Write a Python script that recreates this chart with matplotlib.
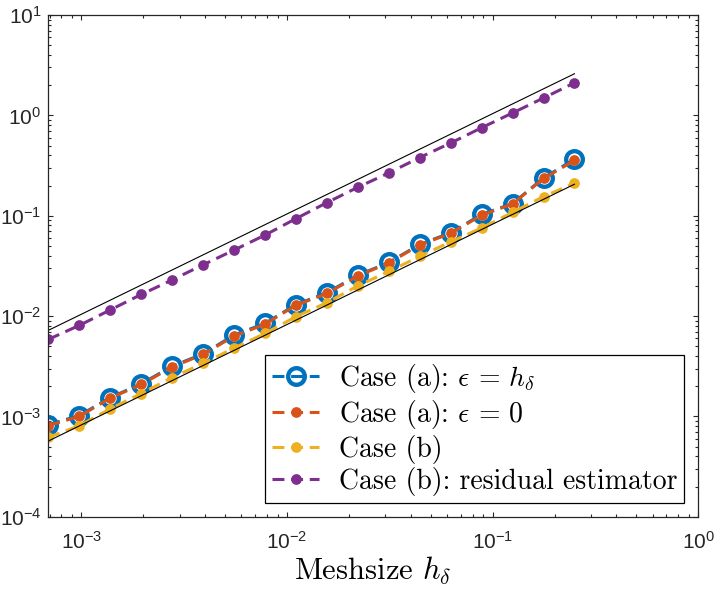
import math
import matplotlib
matplotlib.use("Agg")
import matplotlib.pyplot as plt
from matplotlib.ticker import LogLocator, FuncFormatter, NullFormatter

plt.rcParams['font.family'] = ['Liberation Sans', 'DejaVu Sans']
plt.rcParams['mathtext.fontset'] = 'cm'

# meshsizes (ascending)
h = [0.0006905, 0.0009766, 0.001381, 0.001953, 0.002762, 0.003906, 0.005524,
     0.007813, 0.01105, 0.01563, 0.0221, 0.03125, 0.04419, 0.0625, 0.08839,
     0.125, 0.1768, 0.25]

case_a_eps_h = [8.26e-4, 1.02e-3, 1.54e-3, 2.11e-3, 3.16e-3, 4.2e-3, 6.46e-3,
                8.45e-3, 0.0130, 0.0171, 0.0255, 0.0342, 0.0517, 0.0676,
                0.103, 0.132, 0.238, 0.366]
case_a_eps_0 = [8.1e-4, 1.0e-3, 1.52e-3, 2.08e-3, 3.1e-3, 4.15e-3, 6.3e-3,
                8.3e-3, 0.0128, 0.0168, 0.0251, 0.0338, 0.051, 0.0668,
                0.101, 0.131, 0.235, 0.355]
case_b = [6.17e-4, 8.07e-4, 1.19e-3, 1.69e-3, 2.44e-3, 3.37e-3, 4.79e-3,
          6.71e-3, 9.86e-3, 0.0136, 0.0200, 0.0278, 0.0393, 0.055, 0.0753,
          0.108, 0.155, 0.211]
case_b_resid = [0.00585, 0.00807, 0.0115, 0.0164, 0.0229, 0.0324, 0.0454,
                0.0641, 0.0935, 0.135, 0.192, 0.267, 0.380, 0.530, 0.753,
                1.057, 1.49, 2.11]

# slope-1 reference lines (end points)
ref_x = [0.0006905, 0.25]
ref_upper = [0.0072, 2.6]
ref_lower = [0.000568, 0.206]

labels = [r'Case (a): $\epsilon\,=\,h_\delta$',
          r'Case (a): $\epsilon\,=\,0$',
          r'Case (b)',
          r'Case (b): residual estimator']
colors = ['#0072BD', '#D95319', '#EDB120', '#7E2F8E']

fig = plt.figure(figsize=(7.15, 5.94), dpi=100)
ax = fig.add_axes([0.0676, 0.1301, 0.909, 0.8446])

lw = 2.2
dash = (3.9, 2.2)
ax.plot(h, case_a_eps_h, '--', dashes=dash, color=colors[0], lw=lw, marker='o',
        ms=12, mfc='none', mew=3.1, label=labels[0])
ax.plot(h, case_a_eps_0, '--', dashes=dash, color=colors[1], lw=lw, marker='o',
        ms=6.7, label=labels[1])
ax.plot(h, case_b, '--', dashes=dash, color=colors[2], lw=lw, marker='o',
        ms=6.7, label=labels[2])
ax.plot(h, case_b_resid, '--', dashes=dash, color=colors[3], lw=lw, marker='o',
        ms=6.7, label=labels[3])

ax.plot(ref_x, ref_upper, 'k-', lw=0.8)
ax.plot(ref_x, ref_lower, 'k-', lw=0.8)

ax.set_xscale('log')
ax.set_yscale('log')
ax.set_xlim(h[0], 1)
ax.set_ylim(1e-4, 1e1)

fmt = FuncFormatter(lambda v, p: r'$\mathdefault{10^{%d}}$' % round(math.log10(v)))
ax.xaxis.set_major_locator(LogLocator(base=10, numticks=20))
ax.yaxis.set_major_locator(LogLocator(base=10, numticks=20))
ax.xaxis.set_minor_locator(LogLocator(base=10, subs=range(2, 10), numticks=50))
ax.yaxis.set_minor_locator(LogLocator(base=10, subs=range(2, 10), numticks=50))
ax.xaxis.set_major_formatter(fmt)
ax.yaxis.set_major_formatter(fmt)
ax.xaxis.set_minor_formatter(NullFormatter())
ax.yaxis.set_minor_formatter(NullFormatter())

grey = '#262626'
ax.tick_params(which='both', direction='in', top=True, right=True,
               colors=grey, labelsize=15, width=0.8)
ax.tick_params(which='major', length=3.5)
ax.tick_params(which='minor', length=2)
ax.tick_params(axis='x', pad=10)
ax.tick_params(axis='y', pad=5)
for s in ax.spines.values():
    s.set_color(grey)
    s.set_linewidth(0.9)

ax.set_xlabel(r'Meshsize $h_\delta$', fontsize=22, family='cmr10', color='black',
              labelpad=2)

leg = ax.legend(loc='lower right', prop={'family': 'cmr10', 'size': 20},
                fancybox=False, framealpha=1, edgecolor='black',
                handlelength=1.7, labelspacing=0.12, borderaxespad=0.5,
                handletextpad=0.7, borderpad=0.25)
leg.get_frame().set_linewidth(0.9)

fig.savefig('out.png', dpi=100)
